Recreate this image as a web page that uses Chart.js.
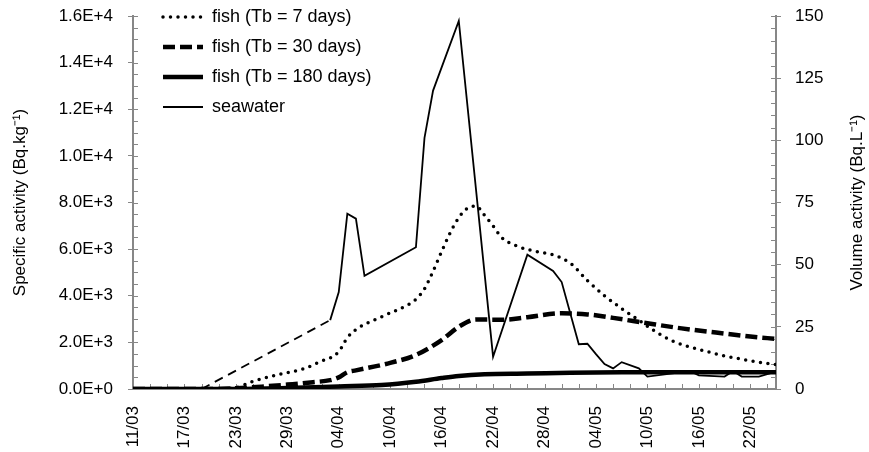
<!DOCTYPE html>
<html>
<head>
<meta charset="utf-8">
<script src="https://cdn.jsdelivr.net/npm/chart.js@4.4.1/dist/chart.umd.min.js"></script>
<style>
  body { margin: 0; background: #fff; }
  #wrap { width: 869px; height: 452px; }
</style>
</head>
<body>
<div id="wrap"><canvas id="chart"></canvas></div>
<script>
// x axis labels (dd/mm, 2011)
const xTickLabels = ['11/03','17/03','23/03','29/03','04/04','10/04','16/04','22/04','28/04','04/05','10/05','16/05','22/05'];

// fish, Tb = 7 days (Bq/kg)
const tb7Dates  = ['11/03','20/03','23/03','25/03','28/03','31/03','02/04','03/04','04/04','05/04','06/04','09/04','12/04','13/04','14/04','15/04','16/04','17/04','18/04','19/04','20/04','21/04','22/04','23/04','25/04','27/04','29/04','01/05','03/05','05/05','07/05','09/05','11/05','13/05','15/05','17/05','19/05','21/05','23/05','25/05'];
const tb7Values = [0, 0, 60, 330, 620, 880, 1200, 1330, 1600, 2200, 2550, 3100, 3600, 3850, 4300, 5050, 5900, 6700, 7350, 7750, 7850, 7450, 7000, 6500, 6100, 5900, 5750, 5400, 4650, 4000, 3450, 2950, 2450, 2050, 1800, 1600, 1420, 1280, 1150, 1050];

// fish, Tb = 30 days
const tb30Dates  = ['11/03','20/03','23/03','26/03','29/03','01/04','03/04','04/04','05/04','06/04','10/04','13/04','16/04','18/04','20/04','23/04','26/04','30/04','03/05','06/05','10/05','14/05','18/05','22/05','25/05'];
const tb30Values = [0, 0, 30, 100, 190, 290, 380, 500, 720, 800, 1120, 1460, 2100, 2670, 2980, 2970, 3080, 3250, 3200, 3050, 2820, 2600, 2420, 2250, 2150];

// fish, Tb = 180 days
const tb180Dates  = ['11/03','23/03','29/03','04/04','09/04','13/04','16/04','18/04','21/04','26/04','01/05','07/05','25/05'];
const tb180Values = [0, 0, 40, 110, 170, 310, 470, 560, 630, 660, 700, 720, 720];

// seawater (Bq/L), first segment is the dashed estimate
const seaDates  = ['19/03','03/04','04/04','05/04','06/04','07/04','13/04','14/04','15/04','18/04','22/04','26/04','29/04','30/04','02/05','03/05','04/05','05/05','06/05','07/05','09/05','10/05','15/05','16/05','19/05','20/05','21/05','23/05','25/05'];
const seaValues = [0, 27.7, 39, 70.5, 68.5, 45.5, 57, 101, 120, 148, 13, 54, 47.5, 43, 18, 18.2, 14, 10, 8.3, 10.8, 8.3, 5, 7.2, 5.5, 5, 7.2, 5, 5, 7];

const leftTitle = 'Specific activity (Bq.kg\u207B\u00B9)';
const rightTitle = 'Volume activity (Bq.L\u207B\u00B9)';

const FONT = "'Liberation Sans', Arial, sans-serif";
const axisGray = '#878787';

// days since 11/03
function dayOf(s) {
  const [d, m] = s.split('/').map(Number);
  return (Date.UTC(2011, m - 1, d) - Date.UTC(2011, 2, 11)) / 864e5;
}
function pts(dates, values) {
  return dates.map((s, i) => ({ x: dayOf(s), y: values[i] }));
}

Chart.defaults.font.family = FONT;
Chart.defaults.font.size = 17;
Chart.defaults.color = '#000';

// small inward ticks on all three axes
const minorTicks = {
  id: 'minorTicks',
  beforeDatasetsDraw(chart) {
    const { ctx, chartArea: a, scales } = chart;
    ctx.save();
    ctx.strokeStyle = axisGray;
    ctx.lineWidth = 1;
    ctx.beginPath();
    for (let v = 0; v <= 16000; v += 500) {
      const y = Math.round(scales.y.getPixelForValue(v)) + 0.5;
      ctx.moveTo(a.left, y); ctx.lineTo(a.left + 5, y);
    }
    for (let v = 0; v <= 150; v += 5) {
      const y = Math.round(scales.y2.getPixelForValue(v)) + 0.5;
      ctx.moveTo(a.right, y); ctx.lineTo(a.right - 5, y);
    }
    for (let d = 0; d <= 75; d += 2) {
      const x = Math.round(scales.x.getPixelForValue(d)) + 0.5;
      ctx.moveTo(x, a.bottom); ctx.lineTo(x, a.bottom - 5);
    }
    ctx.stroke();
    ctx.restore();
  }
};

// right title reads bottom-to-top like the left one
const rightAxisTitle = {
  id: 'rightAxisTitle',
  afterDraw(chart) {
    const { ctx, chartArea: a } = chart;
    ctx.save();
    ctx.translate(chart.width - 12, (a.top + a.bottom) / 2);
    ctx.rotate(-Math.PI / 2);
    ctx.font = '17px ' + FONT;
    ctx.fillStyle = '#000';
    ctx.textAlign = 'center';
    ctx.textBaseline = 'middle';
    ctx.fillText(rightTitle, 0, 0);
    ctx.restore();
  }
};

// put the legend in the upper left corner of the plot
const legendSpot = {
  id: 'legendSpot',
  afterLayout(chart) {
    const lg = chart.legend;
    const pad = lg.options.labels.padding;
    lg.left = chart.chartArea.left + 30 - pad;
    lg.top = chart.chartArea.top - 8 - pad;
    lg.right = lg.left + 260;
    lg.bottom = chart.chartArea.bottom;
  }
};

// fixed widths for the y axes, no extra room above the top label
function fitY(width) {
  return scale => {
    scale.width = width;
    scale.paddingTop = 0;
    scale.paddingBottom = 0;
  };
}

new Chart(document.getElementById('chart'), {
  type: 'line',
  data: {
    datasets: [
      {
        label: 'fish (Tb = 7 days)',
        data: pts(tb7Dates, tb7Values),
        yAxisID: 'y',
        borderColor: '#000',
        backgroundColor: '#000',
        borderWidth: 3.5,
        borderDash: [0, 7.5],
        borderCapStyle: 'round',
        cubicInterpolationMode: 'monotone',
        pointRadius: 0
      },
      {
        label: 'fish (Tb = 30 days)',
        data: pts(tb30Dates, tb30Values),
        yAxisID: 'y',
        borderColor: '#000',
        backgroundColor: '#000',
        borderWidth: 4.5,
        borderDash: [12, 5],
        cubicInterpolationMode: 'monotone',
        pointRadius: 0
      },
      {
        label: 'fish (Tb = 180 days)',
        data: pts(tb180Dates, tb180Values),
        yAxisID: 'y',
        borderColor: '#000',
        backgroundColor: '#000',
        borderWidth: 4.5,
        cubicInterpolationMode: 'monotone',
        pointRadius: 0
      },
      {
        label: 'seawater',
        data: pts(seaDates, seaValues),
        yAxisID: 'y2',
        borderColor: '#000',
        backgroundColor: '#000',
        borderWidth: 1.8,
        tension: 0,
        pointRadius: 0,
        segment: {
          borderDash: ctx => ctx.p0DataIndex === 0 ? [9, 6] : undefined
        }
      }
    ]
  },
  options: {
    responsive: true,
    maintainAspectRatio: false,
    animation: false,
    layout: { padding: { top: 16, left: 0, right: 0, bottom: 0 } },
    plugins: {
      tooltip: { enabled: false },
      legend: {
        position: 'chartArea',
        align: 'start',
        labels: {
          usePointStyle: true,
          pointStyle: 'line',
          pointStyleWidth: 40,
          padding: 12,
          color: '#000',
          font: { size: 18 },
          // legend samples take the dash and width of each line
          generateLabels: chart => chart.data.datasets.map((ds, i) => ({
            text: ds.label,
            datasetIndex: i,
            fillStyle: ds.borderColor,
            strokeStyle: ds.borderColor,
            lineWidth: ds.borderWidth,
            lineDash: ds.borderDash || [],
            lineCap: ds.borderCapStyle || 'butt',
            pointStyle: 'line',
            fontColor: '#000',
            hidden: false
          }))
        }
      }
    },
    scales: {
      x: {
        type: 'linear',
        min: 0,
        max: 75,
        afterBuildTicks: scale => {
          scale.ticks = xTickLabels.map(s => ({ value: dayOf(s) }));
        },
        afterFit: scale => { scale.height = 63; },
        ticks: {
          autoSkip: false,
          minRotation: 90,
          maxRotation: 90,
          padding: 17,
          callback: (v, i) => xTickLabels[i]
        },
        grid: { display: true, drawOnChartArea: false, drawTicks: false },
        border: { color: axisGray, width: 2 }
      },
      y: {
        position: 'left',
        min: 0,
        max: 16000,
        afterFit: fitY(133),
        ticks: {
          stepSize: 2000,
          padding: 15,
          callback: v => v.toExponential(1).toUpperCase()
        },
        grid: { drawOnChartArea: false, tickLength: 5, tickColor: axisGray },
        border: { color: axisGray, width: 2 },
        title: {
          display: true,
          text: leftTitle,
          padding: { top: 10, bottom: 0 },
          font: { size: 17 }
        }
      },
      y2: {
        position: 'right',
        min: 0,
        max: 150,
        afterFit: fitY(93),
        ticks: { stepSize: 25, padding: 14 },
        grid: { drawOnChartArea: false, tickLength: 5, tickColor: axisGray },
        border: { color: axisGray, width: 2 }
      }
    }
  },
  plugins: [minorTicks, rightAxisTitle, legendSpot]
});
</script>
</body>
</html>
